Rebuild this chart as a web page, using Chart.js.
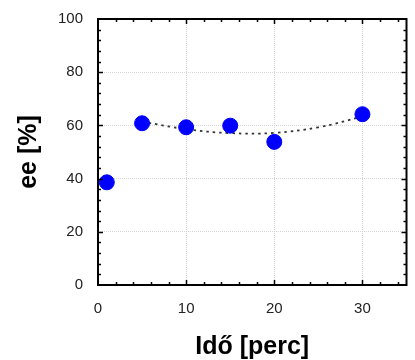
<!DOCTYPE html>
<html>
<head>
<meta charset="utf-8">
<script src="https://cdn.jsdelivr.net/npm/chart.js@4.4.1/dist/chart.umd.min.js"></script>
<style>
  body { margin: 0; background: #fff; }
  #wrap { width: 415px; height: 360px; }
</style>
</head>
<body>
<div id="wrap"><canvas id="eeChart" width="415" height="360"></canvas></div>
<script>
// measured points
const timeMin = [1, 5, 10, 15, 20, 30];
const eeValues = [38.6, 60.8, 59.3, 59.9, 53.8, 64.2];

// dotted trend curve
const trendX = [5, 10, 15, 20, 25, 30];
const trendY = [61.4, 58.6, 57.1, 57.2, 59.3, 63.3];

// axis ticks
const xTicks = [0, 10, 20, 30];
const yTicks = [0, 20, 40, 60, 80, 100];
const xMinorStep = 2;
const yMinorStep = 4;

const FONT = "'Liberation Sans', Arial, sans-serif";

// black box round the plot with inward ticks on all four sides
const framePlugin = {
    id: 'frame',
    afterDraw(chart) {
        const { ctx, chartArea: a, scales: { x, y } } = chart;
        ctx.save();
        ctx.strokeStyle = '#000';
        ctx.lineWidth = 1.5;
        ctx.beginPath();
        for (let v = xMinorStep; v < x.max; v += xMinorStep) {
            const px = Math.round(x.getPixelForValue(v)) + 0.5;
            const len = xTicks.includes(v) ? 5 : 3;
            ctx.moveTo(px, a.bottom); ctx.lineTo(px, a.bottom - len);
            ctx.moveTo(px, a.top); ctx.lineTo(px, a.top + len);
        }
        for (let v = yMinorStep; v < y.max; v += yMinorStep) {
            const py = Math.round(y.getPixelForValue(v)) + 0.5;
            const len = yTicks.includes(v) ? 5 : 3;
            ctx.moveTo(a.left, py); ctx.lineTo(a.left + len, py);
            ctx.moveTo(a.right, py); ctx.lineTo(a.right - len, py);
        }
        for (const v of yTicks.slice(1, -1)) {
            const py = Math.round(y.getPixelForValue(v)) + 0.5;
            ctx.moveTo(a.left, py); ctx.lineTo(a.left + 5, py);
            ctx.moveTo(a.right, py); ctx.lineTo(a.right - 5, py);
        }
        ctx.stroke();
        ctx.lineWidth = 2;
        ctx.strokeRect(a.left, a.top, a.right - a.left, a.bottom - a.top);
        ctx.restore();
    }
};

new Chart(document.getElementById('eeChart'), {
    type: 'scatter',
    data: {
        datasets: [
            {
                label: 'ee',
                data: timeMin.map((t, i) => ({ x: t, y: eeValues[i] })),
                backgroundColor: '#0000ff',
                borderColor: '#0000ff',
                pointRadius: 7.5,
                pointHoverRadius: 7.5,
                order: 0
            },
            {
                label: 'trend',
                type: 'line',
                data: trendX.map((t, i) => ({ x: t, y: trendY[i] })),
                borderColor: '#333',
                borderWidth: 1.8,
                borderDash: [2.5, 4],
                pointRadius: 0,
                fill: false,
                tension: 0.4,
                order: 1
            }
        ]
    },
    options: {
        responsive: false,
        animation: false,
        layout: { padding: { top: 19, right: 7, left: 0, bottom: 0 } },
        plugins: { legend: { display: false }, tooltip: { enabled: false } },
        scales: {
            x: {
                type: 'linear',
                min: 0,
                max: 35,
                afterBuildTicks: s => { s.ticks = xTicks.map(v => ({ value: v })); },
                afterFit: s => { s.height = 75; s.paddingLeft = 0; s.paddingRight = 0; },
                grid: { color: '#d6d6d6', lineWidth: 1, drawTicks: false },
                border: { display: false, dash: [1, 1] },
                ticks: { padding: 15, color: '#222', font: { family: FONT, size: 15 } },
                title: {
                    display: true,
                    text: 'Idő [perc]',
                    color: '#000',
                    padding: { top: 0, bottom: 0 },
                    font: { family: FONT, size: 25, weight: 'bold', lineHeight: 1 }
                }
            },
            y: {
                min: 0,
                max: 100,
                afterBuildTicks: s => { s.ticks = yTicks.map(v => ({ value: v })); },
                afterFit: s => { s.width = 98; s.paddingTop = 0; s.paddingBottom = 0; },
                grid: { color: '#d6d6d6', lineWidth: 1, drawTicks: false },
                border: { display: false, dash: [1, 1] },
                ticks: { padding: 15, color: '#222', font: { family: FONT, size: 15 } },
                title: {
                    display: true,
                    text: 'ee [%]',
                    color: '#000',
                    padding: { top: 17, bottom: 0 },
                    font: { family: FONT, size: 25, weight: 'bold', lineHeight: 1 }
                }
            }
        }
    },
    plugins: [framePlugin]
});
</script>
</body>
</html>
